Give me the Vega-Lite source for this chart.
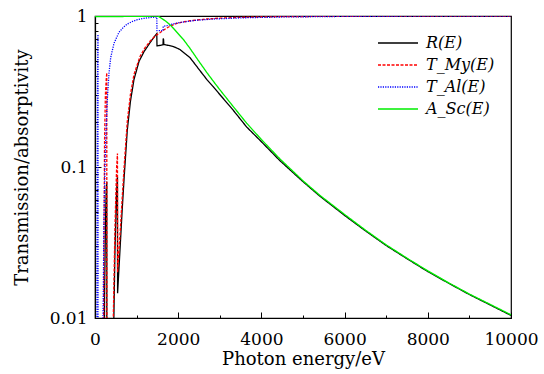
{
  "$schema": "https://vega.github.io/schema/vega-lite/v6.json",
  "width": 416,
  "height": 302,
  "autosize": {"type": "none"},
  "padding": {"left": 95, "top": 16, "right": 33, "bottom": 56},
  "background": "white",
  "config": {
    "view": {"stroke": "#000000", "strokeWidth": 1.2},
    "font": "DejaVu Serif",
    "axis": {
      "grid": false,
      "domainColor": "#000000",
      "domainWidth": 1.2,
      "tickColor": "#000000",
      "tickWidth": 1,
      "labelColor": "#000000",
      "labelFont": "DejaVu Serif",
      "labelFontSize": 17,
      "titleFont": "DejaVu Serif",
      "titleFontSize": 18,
      "titleFontWeight": "normal",
      "titleColor": "#000000"
    }
  },
  "data": {
    "values": [
      {"s": "R(E)", "e": 0, "v": 0.001},
      {"s": "R(E)", "e": 215, "v": 0.001},
      {"s": "R(E)", "e": 230, "v": 0.014},
      {"s": "R(E)", "e": 250, "v": 0.04},
      {"s": "R(E)", "e": 270, "v": 0.072},
      {"s": "R(E)", "e": 283, "v": 0.08},
      {"s": "R(E)", "e": 285, "v": 0.001},
      {"s": "R(E)", "e": 425, "v": 0.001},
      {"s": "R(E)", "e": 440, "v": 0.006},
      {"s": "R(E)", "e": 480, "v": 0.028},
      {"s": "R(E)", "e": 520, "v": 0.07},
      {"s": "R(E)", "e": 540, "v": 0.086},
      {"s": "R(E)", "e": 543, "v": 0.0146},
      {"s": "R(E)", "e": 600, "v": 0.028},
      {"s": "R(E)", "e": 650, "v": 0.05},
      {"s": "R(E)", "e": 700, "v": 0.085},
      {"s": "R(E)", "e": 776, "v": 0.175},
      {"s": "R(E)", "e": 850, "v": 0.27},
      {"s": "R(E)", "e": 937, "v": 0.38},
      {"s": "R(E)", "e": 1058, "v": 0.5},
      {"s": "R(E)", "e": 1178, "v": 0.58},
      {"s": "R(E)", "e": 1322, "v": 0.665},
      {"s": "R(E)", "e": 1420, "v": 0.725},
      {"s": "R(E)", "e": 1485, "v": 0.765},
      {"s": "R(E)", "e": 1490, "v": 0.635},
      {"s": "R(E)", "e": 1560, "v": 0.638},
      {"s": "R(E)", "e": 1635, "v": 0.645},
      {"s": "R(E)", "e": 1640, "v": 0.71},
      {"s": "R(E)", "e": 1648, "v": 0.7},
      {"s": "R(E)", "e": 1655, "v": 0.648},
      {"s": "R(E)", "e": 1750, "v": 0.64},
      {"s": "R(E)", "e": 1883, "v": 0.628},
      {"s": "R(E)", "e": 2043, "v": 0.6},
      {"s": "R(E)", "e": 2123, "v": 0.575},
      {"s": "R(E)", "e": 2284, "v": 0.53},
      {"s": "R(E)", "e": 2500, "v": 0.443},
      {"s": "R(E)", "e": 2700, "v": 0.376},
      {"s": "R(E)", "e": 2844, "v": 0.34},
      {"s": "R(E)", "e": 3000, "v": 0.302},
      {"s": "R(E)", "e": 3300, "v": 0.242},
      {"s": "R(E)", "e": 3646, "v": 0.184},
      {"s": "R(E)", "e": 4000, "v": 0.147},
      {"s": "R(E)", "e": 4447, "v": 0.11},
      {"s": "R(E)", "e": 5000, "v": 0.08},
      {"s": "R(E)", "e": 5409, "v": 0.064},
      {"s": "R(E)", "e": 6000, "v": 0.0478},
      {"s": "R(E)", "e": 6500, "v": 0.0378},
      {"s": "R(E)", "e": 7000, "v": 0.0302},
      {"s": "R(E)", "e": 7500, "v": 0.0247},
      {"s": "R(E)", "e": 8000, "v": 0.0203},
      {"s": "R(E)", "e": 8500, "v": 0.017},
      {"s": "R(E)", "e": 9000, "v": 0.0143},
      {"s": "R(E)", "e": 9500, "v": 0.0122},
      {"s": "R(E)", "e": 10000, "v": 0.0104},

      {"s": "T_My(E)", "e": 0, "v": 0.001},
      {"s": "T_My(E)", "e": 195, "v": 0.001},
      {"s": "T_My(E)", "e": 205, "v": 0.005},
      {"s": "T_My(E)", "e": 215, "v": 0.03},
      {"s": "T_My(E)", "e": 230, "v": 0.15},
      {"s": "T_My(E)", "e": 250, "v": 0.3},
      {"s": "T_My(E)", "e": 270, "v": 0.38},
      {"s": "T_My(E)", "e": 283, "v": 0.42},
      {"s": "T_My(E)", "e": 285, "v": 0.001},
      {"s": "T_My(E)", "e": 420, "v": 0.001},
      {"s": "T_My(E)", "e": 440, "v": 0.01},
      {"s": "T_My(E)", "e": 480, "v": 0.04},
      {"s": "T_My(E)", "e": 520, "v": 0.1},
      {"s": "T_My(E)", "e": 540, "v": 0.123},
      {"s": "T_My(E)", "e": 543, "v": 0.02},
      {"s": "T_My(E)", "e": 600, "v": 0.035},
      {"s": "T_My(E)", "e": 650, "v": 0.06},
      {"s": "T_My(E)", "e": 700, "v": 0.1},
      {"s": "T_My(E)", "e": 776, "v": 0.2},
      {"s": "T_My(E)", "e": 850, "v": 0.3},
      {"s": "T_My(E)", "e": 937, "v": 0.41},
      {"s": "T_My(E)", "e": 1082, "v": 0.54},
      {"s": "T_My(E)", "e": 1200, "v": 0.615},
      {"s": "T_My(E)", "e": 1322, "v": 0.68},
      {"s": "T_My(E)", "e": 1450, "v": 0.74},
      {"s": "T_My(E)", "e": 1562, "v": 0.775},
      {"s": "T_My(E)", "e": 1700, "v": 0.825},
      {"s": "T_My(E)", "e": 1803, "v": 0.855},
      {"s": "T_My(E)", "e": 1950, "v": 0.89},
      {"s": "T_My(E)", "e": 2123, "v": 0.915},
      {"s": "T_My(E)", "e": 2284, "v": 0.93},
      {"s": "T_My(E)", "e": 2684, "v": 0.955},
      {"s": "T_My(E)", "e": 3000, "v": 0.968},
      {"s": "T_My(E)", "e": 3500, "v": 0.98},
      {"s": "T_My(E)", "e": 4447, "v": 0.99},
      {"s": "T_My(E)", "e": 6000, "v": 0.996},
      {"s": "T_My(E)", "e": 8000, "v": 0.999},
      {"s": "T_My(E)", "e": 10000, "v": 1},

      {"s": "T_Al(E)", "e": 0, "v": 0.001},
      {"s": "T_Al(E)", "e": 40, "v": 0.001},
      {"s": "T_Al(E)", "e": 50, "v": 0.03},
      {"s": "T_Al(E)", "e": 60, "v": 0.35},
      {"s": "T_Al(E)", "e": 70, "v": 0.74},
      {"s": "T_Al(E)", "e": 72, "v": 0.74},
      {"s": "T_Al(E)", "e": 73, "v": 0.001},
      {"s": "T_Al(E)", "e": 160, "v": 0.001},
      {"s": "T_Al(E)", "e": 180, "v": 0.005},
      {"s": "T_Al(E)", "e": 200, "v": 0.015},
      {"s": "T_Al(E)", "e": 215, "v": 0.045},
      {"s": "T_Al(E)", "e": 240, "v": 0.1},
      {"s": "T_Al(E)", "e": 260, "v": 0.16},
      {"s": "T_Al(E)", "e": 281, "v": 0.22},
      {"s": "T_Al(E)", "e": 296, "v": 0.28},
      {"s": "T_Al(E)", "e": 337, "v": 0.42},
      {"s": "T_Al(E)", "e": 377, "v": 0.53},
      {"s": "T_Al(E)", "e": 457, "v": 0.66},
      {"s": "T_Al(E)", "e": 577, "v": 0.78},
      {"s": "T_Al(E)", "e": 680, "v": 0.84},
      {"s": "T_Al(E)", "e": 776, "v": 0.885},
      {"s": "T_Al(E)", "e": 900, "v": 0.92},
      {"s": "T_Al(E)", "e": 1017, "v": 0.945},
      {"s": "T_Al(E)", "e": 1178, "v": 0.965},
      {"s": "T_Al(E)", "e": 1350, "v": 0.978},
      {"s": "T_Al(E)", "e": 1485, "v": 0.985},
      {"s": "T_Al(E)", "e": 1490, "v": 0.8},
      {"s": "T_Al(E)", "e": 1560, "v": 0.8},
      {"s": "T_Al(E)", "e": 1635, "v": 0.8},
      {"s": "T_Al(E)", "e": 1640, "v": 0.855},
      {"s": "T_Al(E)", "e": 1730, "v": 0.862},
      {"s": "T_Al(E)", "e": 1803, "v": 0.875},
      {"s": "T_Al(E)", "e": 1900, "v": 0.89},
      {"s": "T_Al(E)", "e": 2043, "v": 0.905},
      {"s": "T_Al(E)", "e": 2400, "v": 0.935},
      {"s": "T_Al(E)", "e": 2844, "v": 0.955},
      {"s": "T_Al(E)", "e": 3500, "v": 0.972},
      {"s": "T_Al(E)", "e": 4447, "v": 0.985},
      {"s": "T_Al(E)", "e": 6000, "v": 0.994},
      {"s": "T_Al(E)", "e": 8000, "v": 0.998},
      {"s": "T_Al(E)", "e": 10000, "v": 1},

      {"s": "A_Sc(E)", "e": 0, "v": 0.99},
      {"s": "A_Sc(E)", "e": 500, "v": 0.992},
      {"s": "A_Sc(E)", "e": 1000, "v": 0.994},
      {"s": "A_Sc(E)", "e": 1300, "v": 0.996},
      {"s": "A_Sc(E)", "e": 1500, "v": 1.0},
      {"s": "A_Sc(E)", "e": 1530, "v": 0.993},
      {"s": "A_Sc(E)", "e": 1600, "v": 0.965},
      {"s": "A_Sc(E)", "e": 1700, "v": 0.925},
      {"s": "A_Sc(E)", "e": 1803, "v": 0.875},
      {"s": "A_Sc(E)", "e": 1900, "v": 0.82},
      {"s": "A_Sc(E)", "e": 2043, "v": 0.74},
      {"s": "A_Sc(E)", "e": 2123, "v": 0.7},
      {"s": "A_Sc(E)", "e": 2284, "v": 0.61},
      {"s": "A_Sc(E)", "e": 2500, "v": 0.5},
      {"s": "A_Sc(E)", "e": 2700, "v": 0.418},
      {"s": "A_Sc(E)", "e": 2844, "v": 0.37},
      {"s": "A_Sc(E)", "e": 3000, "v": 0.325},
      {"s": "A_Sc(E)", "e": 3300, "v": 0.256},
      {"s": "A_Sc(E)", "e": 3646, "v": 0.195},
      {"s": "A_Sc(E)", "e": 4000, "v": 0.152},
      {"s": "A_Sc(E)", "e": 4447, "v": 0.113},
      {"s": "A_Sc(E)", "e": 5000, "v": 0.081},
      {"s": "A_Sc(E)", "e": 5409, "v": 0.0648},
      {"s": "A_Sc(E)", "e": 6000, "v": 0.0485},
      {"s": "A_Sc(E)", "e": 6500, "v": 0.0382},
      {"s": "A_Sc(E)", "e": 7000, "v": 0.0305},
      {"s": "A_Sc(E)", "e": 7500, "v": 0.0249},
      {"s": "A_Sc(E)", "e": 8000, "v": 0.0205},
      {"s": "A_Sc(E)", "e": 8500, "v": 0.0171},
      {"s": "A_Sc(E)", "e": 9000, "v": 0.0144},
      {"s": "A_Sc(E)", "e": 9500, "v": 0.0123},
      {"s": "A_Sc(E)", "e": 10000, "v": 0.0105}
    ]
  },
  "mark": {"type": "line", "clip": true, "strokeWidth": 1.3},
  "encoding": {
    "x": {
      "field": "e",
      "type": "quantitative",
      "scale": {"domain": [0, 10000], "nice": false, "zero": false},
      "axis": {
        "title": "Photon energy/eV",
        "values": [0, 1000, 2000, 3000, 4000, 5000, 6000, 7000, 8000, 9000, 10000],
        "labelExpr": "datum.value % 2000 === 0 ? '' + datum.value : ''",
        "tickSize": {"condition": {"test": "datum.value % 2000 === 0", "value": -6}, "value": -3},
        "labelPadding": 19,
        "titlePadding": 0,
        "labelFlush": false,
        "labelOverlap": false
      }
    },
    "y": {
      "field": "v",
      "type": "quantitative",
      "scale": {"type": "log", "domain": [0.01, 1], "nice": false},
      "axis": {
        "title": "Transmission/absorptivity",
        "values": [0.01, 0.02, 0.03, 0.04, 0.05, 0.06, 0.07, 0.08, 0.09, 0.1, 0.2, 0.3, 0.4, 0.5, 0.6, 0.7, 0.8, 0.9, 1],
        "labelExpr": "datum.value == 1 ? '1' : datum.value == 0.1 ? '0.1' : datum.value == 0.01 ? '0.01' : ''",
        "tickSize": {"condition": {"test": "datum.value == 1 || datum.value == 0.1 || datum.value == 0.01", "value": -6}, "value": -3},
        "labelPadding": 14,
        "titlePadding": 18,
        "labelFlush": false,
        "labelOverlap": false
      }
    },
    "color": {
      "field": "s",
      "type": "nominal",
      "sort": null,
      "scale": {"domain": ["R(E)", "T_My(E)", "T_Al(E)", "A_Sc(E)"], "range": ["#000000", "#ff0000", "#0000ff", "#00ee00"]},
      "legend": {
        "title": null,
        "orient": "none",
        "legendX": 292,
        "legendY": 16,
        "symbolType": "M-2,0L2,0",
        "symbolSize": 400,
        "symbolStrokeWidth": 1.5,
        "symbolFillColor": "transparent",
        "labelFont": "DejaVu Serif",
        "labelFontSize": 16,
        "labelFontStyle": "italic",
        "labelColor": "#000000",
        "labelOffset": 17,
        "rowPadding": 3
      }
    },
    "strokeDash": {
      "field": "s",
      "type": "nominal",
      "sort": null,
      "scale": {"domain": ["R(E)", "T_My(E)", "T_Al(E)", "A_Sc(E)"], "range": [[1, 0], [3, 1.5], [1.2, 1.2], [1, 0]]},
      "legend": {
        "title": null,
        "orient": "none",
        "legendX": 292,
        "legendY": 16,
        "symbolType": "M-2,0L2,0",
        "symbolSize": 400,
        "symbolStrokeWidth": 1.5,
        "symbolFillColor": "transparent",
        "labelFont": "DejaVu Serif",
        "labelFontSize": 16,
        "labelFontStyle": "italic",
        "labelColor": "#000000",
        "labelOffset": 17,
        "rowPadding": 3
      }
    }
  }
}
